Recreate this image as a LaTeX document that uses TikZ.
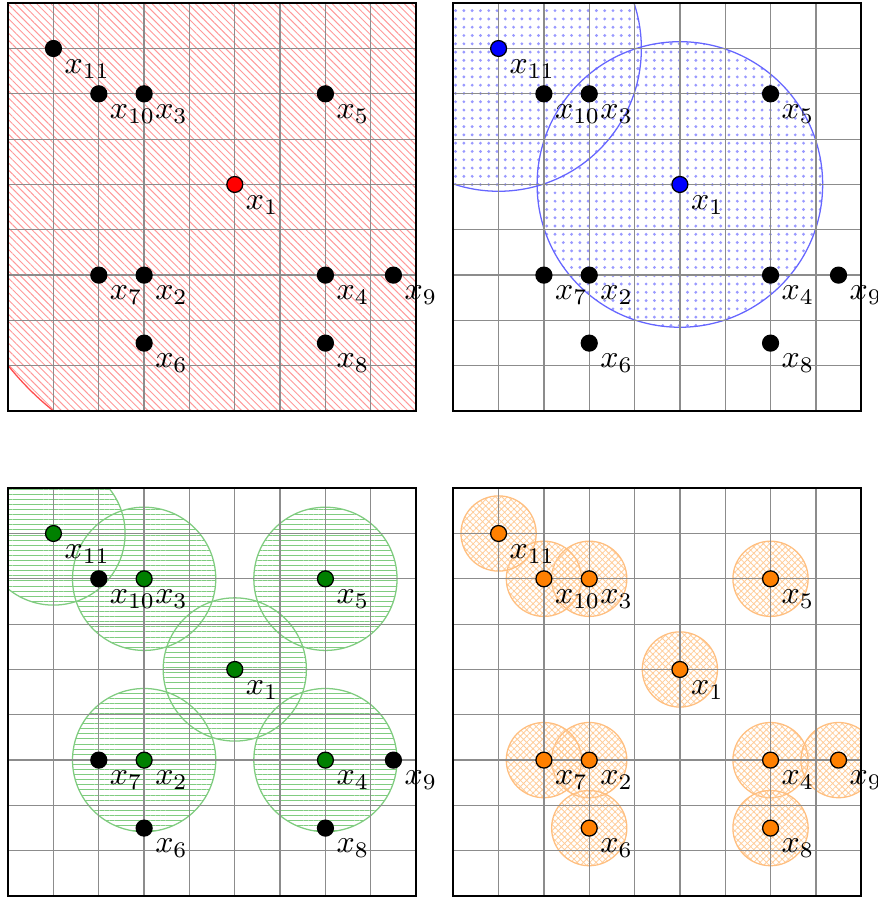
\documentclass[tikz,border=0pt]{standalone}
\usepackage{amsmath,amssymb}
\usetikzlibrary{patterns.meta}

\begin{document}
\begin{tikzpicture}[x=0.5cm,y=0.5cm]
\tikzset{
  datapt/.style={circle,draw=black,fill=black,minimum size=5pt,inner sep=0pt},
  ptlabel/.style={anchor=north west,inner sep=3.3pt},
  gridline/.style={gray!90,line width=0.4pt,xstep=0.5cm,ystep=0.5cm},
  panelframe/.style={black,line width=0.5pt},
  redzone/.style={pattern={Lines[angle=-45,distance=1.6pt,line width=0.3pt]},pattern color=red!40},
  bluezone/.style={pattern={Dots[distance=2.6pt,radius=0.5pt]},pattern color=blue!40},
  greenzone/.style={pattern={Lines[distance=1.6pt,line width=0.3pt]},pattern color=green!60!black!50},
  orangezone/.style={pattern={Hatch[angle=45,distance=1.4pt,line width=0.25pt]},pattern color=orange!40}
}
\useasboundingbox (-0.18,-0.02) rectangle (19.17,19.77);

% panel A: top left
\begin{scope}[shift={(0,10.7)}]
\begin{scope}
\clip (0,0) rectangle (9,9);
\fill[redzone] (5,5) circle (6.4);
\draw[red!70] (5,5) circle (6.4);
\end{scope}
\draw[gridline] (0,0) grid (9,9);
\draw[panelframe] (0,0) rectangle (9,9);
\node[datapt,fill=red] (a_x1) at (5,5) {};
\node[datapt] (a_x2) at (3,3) {};
\node[datapt] (a_x3) at (3,7) {};
\node[datapt] (a_x4) at (7,3) {};
\node[datapt] (a_x5) at (7,7) {};
\node[datapt] (a_x6) at (3,1.5) {};
\node[datapt] (a_x7) at (2,3) {};
\node[datapt] (a_x8) at (7,1.5) {};
\node[datapt] (a_x9) at (8.5,3) {};
\node[datapt] (a_x10) at (2,7) {};
\node[datapt] (a_x11) at (1,8) {};
\node[ptlabel] (a_l1) at (a_x1) {$x_1$};
\node[ptlabel] (a_l2) at (a_x2) {$x_2$};
\node[ptlabel] (a_l3) at (a_x3) {$x_3$};
\node[ptlabel] (a_l4) at (a_x4) {$x_4$};
\node[ptlabel] (a_l5) at (a_x5) {$x_5$};
\node[ptlabel] (a_l6) at (a_x6) {$x_6$};
\node[ptlabel] (a_l7) at (a_x7) {$x_7$};
\node[ptlabel] (a_l8) at (a_x8) {$x_8$};
\node[ptlabel] (a_l9) at (a_x9) {$x_9$};
\node[ptlabel] (a_l10) at (a_x10) {$x_{10}$};
\node[ptlabel] (a_l11) at (a_x11) {$x_{11}$};
\end{scope}

% panel B: top right
\begin{scope}[shift={(9.82,10.7)}]
\begin{scope}
\clip (0,0) rectangle (9,9);
\fill[bluezone] (5,5) circle (3.15);
\fill[bluezone] (1,8) circle (3.15);
\draw[blue!60] (5,5) circle (3.15);
\draw[blue!60] (1,8) circle (3.15);
\end{scope}
\draw[gridline] (0,0) grid (9,9);
\draw[panelframe] (0,0) rectangle (9,9);
\node[datapt,fill=blue] (b_x1) at (5,5) {};
\node[datapt] (b_x2) at (3,3) {};
\node[datapt] (b_x3) at (3,7) {};
\node[datapt] (b_x4) at (7,3) {};
\node[datapt] (b_x5) at (7,7) {};
\node[datapt] (b_x6) at (3,1.5) {};
\node[datapt] (b_x7) at (2,3) {};
\node[datapt] (b_x8) at (7,1.5) {};
\node[datapt] (b_x9) at (8.5,3) {};
\node[datapt] (b_x10) at (2,7) {};
\node[datapt,fill=blue] (b_x11) at (1,8) {};
\node[ptlabel] (b_l1) at (b_x1) {$x_1$};
\node[ptlabel] (b_l2) at (b_x2) {$x_2$};
\node[ptlabel] (b_l3) at (b_x3) {$x_3$};
\node[ptlabel] (b_l4) at (b_x4) {$x_4$};
\node[ptlabel] (b_l5) at (b_x5) {$x_5$};
\node[ptlabel] (b_l6) at (b_x6) {$x_6$};
\node[ptlabel] (b_l7) at (b_x7) {$x_7$};
\node[ptlabel] (b_l8) at (b_x8) {$x_8$};
\node[ptlabel] (b_l9) at (b_x9) {$x_9$};
\node[ptlabel] (b_l10) at (b_x10) {$x_{10}$};
\node[ptlabel] (b_l11) at (b_x11) {$x_{11}$};
\end{scope}

% panel C: bottom left
\begin{scope}
\begin{scope}
\clip (0,0) rectangle (9,9);
\foreach \c in {(5,5),(3,3),(3,7),(7,3),(7,7),(1,8)}{
  \fill[greenzone] \c circle (1.58);
  \draw[green!60!black!50] \c circle (1.58);
}
\end{scope}
\draw[gridline] (0,0) grid (9,9);
\draw[panelframe] (0,0) rectangle (9,9);
\node[datapt,fill=green!50!black] (c_x1) at (5,5) {};
\node[datapt,fill=green!50!black] (c_x2) at (3,3) {};
\node[datapt,fill=green!50!black] (c_x3) at (3,7) {};
\node[datapt,fill=green!50!black] (c_x4) at (7,3) {};
\node[datapt,fill=green!50!black] (c_x5) at (7,7) {};
\node[datapt] (c_x6) at (3,1.5) {};
\node[datapt] (c_x7) at (2,3) {};
\node[datapt] (c_x8) at (7,1.5) {};
\node[datapt] (c_x9) at (8.5,3) {};
\node[datapt] (c_x10) at (2,7) {};
\node[datapt,fill=green!50!black] (c_x11) at (1,8) {};
\node[ptlabel] (c_l1) at (c_x1) {$x_1$};
\node[ptlabel] (c_l2) at (c_x2) {$x_2$};
\node[ptlabel] (c_l3) at (c_x3) {$x_3$};
\node[ptlabel] (c_l4) at (c_x4) {$x_4$};
\node[ptlabel] (c_l5) at (c_x5) {$x_5$};
\node[ptlabel] (c_l6) at (c_x6) {$x_6$};
\node[ptlabel] (c_l7) at (c_x7) {$x_7$};
\node[ptlabel] (c_l8) at (c_x8) {$x_8$};
\node[ptlabel] (c_l9) at (c_x9) {$x_9$};
\node[ptlabel] (c_l10) at (c_x10) {$x_{10}$};
\node[ptlabel] (c_l11) at (c_x11) {$x_{11}$};
\end{scope}

% panel D: bottom right
\begin{scope}[shift={(9.82,0)}]
\begin{scope}
\clip (0,0) rectangle (9,9);
\foreach \c in {(5,5),(3,3),(3,7),(7,3),(7,7),(3,1.5),(2,3),(7,1.5),(8.5,3),(2,7),(1,8)}{
  \fill[orangezone] \c circle (0.83);
  \draw[orange!50] \c circle (0.83);
}
\end{scope}
\draw[gridline] (0,0) grid (9,9);
\draw[panelframe] (0,0) rectangle (9,9);
\node[datapt,fill=orange] (d_x1) at (5,5) {};
\node[datapt,fill=orange] (d_x2) at (3,3) {};
\node[datapt,fill=orange] (d_x3) at (3,7) {};
\node[datapt,fill=orange] (d_x4) at (7,3) {};
\node[datapt,fill=orange] (d_x5) at (7,7) {};
\node[datapt,fill=orange] (d_x6) at (3,1.5) {};
\node[datapt,fill=orange] (d_x7) at (2,3) {};
\node[datapt,fill=orange] (d_x8) at (7,1.5) {};
\node[datapt,fill=orange] (d_x9) at (8.5,3) {};
\node[datapt,fill=orange] (d_x10) at (2,7) {};
\node[datapt,fill=orange] (d_x11) at (1,8) {};
\node[ptlabel] (d_l1) at (d_x1) {$x_1$};
\node[ptlabel] (d_l2) at (d_x2) {$x_2$};
\node[ptlabel] (d_l3) at (d_x3) {$x_3$};
\node[ptlabel] (d_l4) at (d_x4) {$x_4$};
\node[ptlabel] (d_l5) at (d_x5) {$x_5$};
\node[ptlabel] (d_l6) at (d_x6) {$x_6$};
\node[ptlabel] (d_l7) at (d_x7) {$x_7$};
\node[ptlabel] (d_l8) at (d_x8) {$x_8$};
\node[ptlabel] (d_l9) at (d_x9) {$x_9$};
\node[ptlabel] (d_l10) at (d_x10) {$x_{10}$};
\node[ptlabel] (d_l11) at (d_x11) {$x_{11}$};
\end{scope}
\end{tikzpicture}
\end{document}
